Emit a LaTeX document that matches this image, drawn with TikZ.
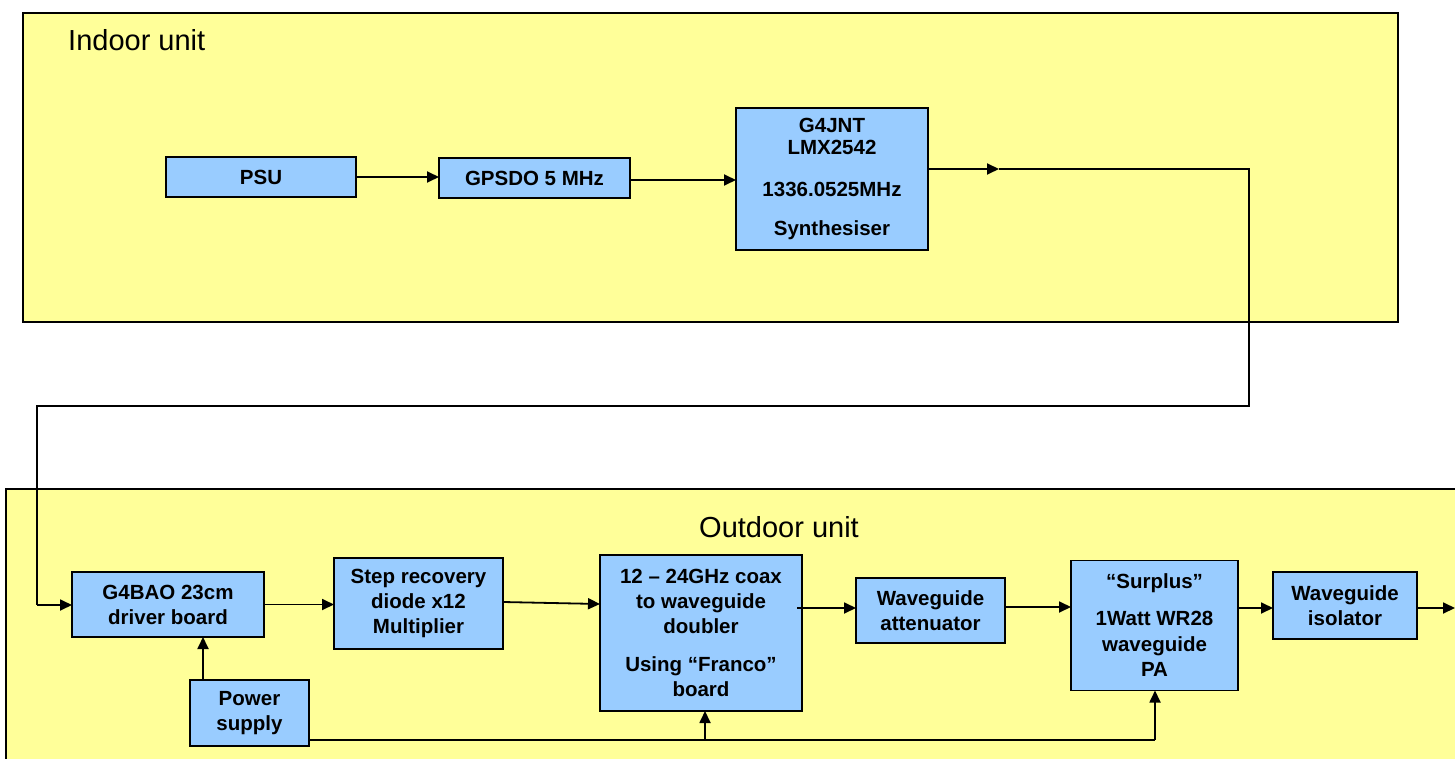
\documentclass[tikz,border=0pt]{standalone}
\usepackage{fontspec}
\setmainfont{Liberation Sans}
\usetikzlibrary{arrows.meta}
\definecolor{unitfill}{HTML}{FFFF99}
\definecolor{boxfill}{HTML}{99CCFF}
\begin{document}
\begin{tikzpicture}[x=1pt,y=-1pt,
  unit/.style={draw=black,line width=1.6pt,fill=unitfill},
  blk/.style={draw=black,line width=1.8pt,fill=boxfill,inner sep=0pt,outer sep=0pt,
    align=center,font=\bfseries\fontsize{20.5}{25}\selectfont},
  conn/.style={line width=1.8pt,draw=black},
  arr/.style={conn,-{Triangle[length=12pt,width=11pt]}},
  ulabel/.style={font=\fontsize{29}{32}\selectfont,inner sep=0pt}]
\useasboundingbox (0,0) rectangle (1455,759);
\clip (0,0) rectangle (1455,759);
% units
\draw[unit] (23,13) rectangle (1398,322);
\draw[unit] (6,489) rectangle (1480,790);
\node[ulabel,anchor=west] (indoor) at (68,40) {Indoor unit};
\node[ulabel] (outdoor) at (779,527) {Outdoor unit};
% indoor boxes
\node[blk,minimum width=190pt,minimum height=40pt] (psu) at (261,177) {PSU};
\node[blk,minimum width=191pt,minimum height=40pt] (gps) at (534.5,178) {GPSDO 5 MHz};
\node[blk,minimum width=192pt,minimum height=142pt] (syn) at (832,179)
  {G4JNT\\[-3pt]LMX2542\\[17pt]1336.0525MHz\\[14pt]Synthesiser};
% outdoor boxes
\node[blk,minimum width=192pt,minimum height=65pt] (drv) at (168,604.5) {G4BAO 23cm\\driver board};
\node[blk,minimum width=169pt,minimum height=91pt] (srd) at (418.5,603.5) {Step recovery\\diode x12\\Multiplier};
\node[blk,minimum width=202pt,minimum height=156pt] (dbl) at (701,633)
  {12 -- 24GHz coax\\to waveguide\\doubler\\[13pt]Using “Franco”\\board};
\node[blk,minimum width=149pt,minimum height=65pt] (att) at (930.5,610.5) {Waveguide\\attenuator};
\node[blk,minimum width=167pt,minimum height=130pt] (pa) at (1154.5,625.5)
  {“Surplus”\\[12pt]1Watt WR28\\[1pt]waveguide\\PA};
\node[blk,minimum width=144pt,minimum height=67pt] (iso) at (1345,605.5) {Waveguide\\isolator};
\node[blk,minimum width=119pt,minimum height=66pt] (pwr) at (249.5,713) {Power\\supply};
% coordinates
\coordinate (a1) at (999,169);
\coordinate (c1) at (1249,169);
\coordinate (c2) at (1249,406);
\coordinate (c3) at (37,406);
\coordinate (c4) at (37,605);
\coordinate (out) at (1455,608);
\coordinate (p1) at (705,740);
\coordinate (p2) at (1155,740);
% indoor connectors
\draw[arr] (psu.east) -- (psu.east -| gps.west);
\draw[arr] (gps.east |- 0,180) -- (syn.west |- 0,180);
\draw[arr] (syn.east |- a1) -- (a1);
\draw[conn] (a1) -- (c1) -- (c2) -- (c3) -- (c4);
\draw[arr] (c4) -- (drv.west |- c4);
% outdoor chain
\draw[arr] (drv.east) -- (drv.east -| srd.west);
\draw[arr] (srd.east |- 0,602) -- (dbl.west |- 0,604);
\draw[arr] ([xshift=-5pt]dbl.east |- 0,608) -- (att.west |- 0,608);
\draw[arr] (att.east |- 0,607) -- (pa.west |- 0,607);
\draw[arr] (pa.east |- 0,608) -- (iso.west |- 0,608);
\draw[arr] (iso.east |- out) -- (out);
% power
\draw[arr] (pwr.north -| 203,0) -- (drv.south -| 203,0);
\draw[conn] (pwr.east |- p1) -- (p1) -- (p2);
\draw[arr] (p1) -- (dbl.south -| p1);
\draw[arr] (p2) -- (pa.south -| p2);
\end{tikzpicture}
\end{document}
